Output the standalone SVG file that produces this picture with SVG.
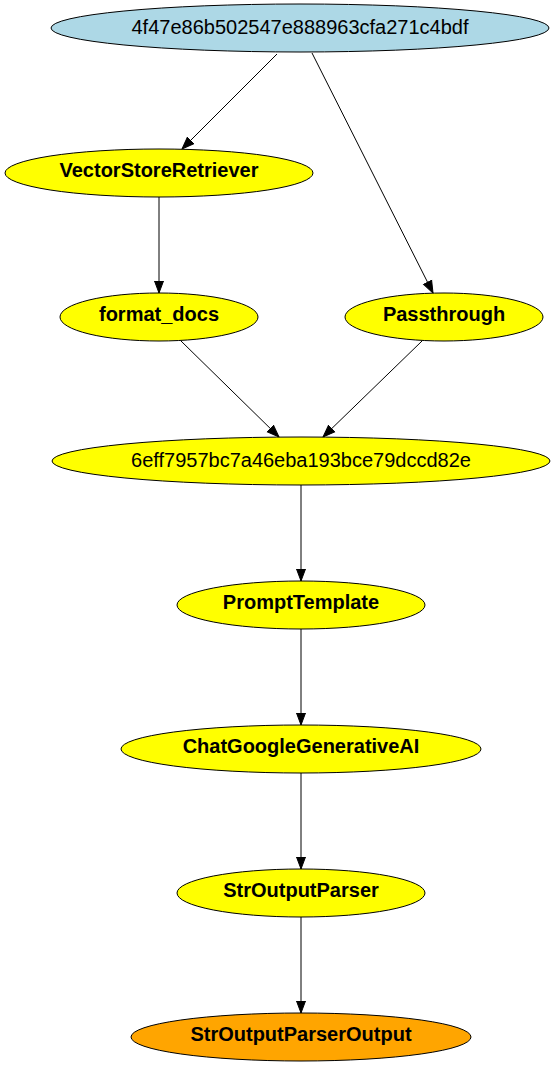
<svg xmlns="http://www.w3.org/2000/svg" width="556" height="1067" viewBox="0 0 556 1067">
<style>
.n ellipse{stroke:#000;stroke-width:1}
.n text{font-family:"Liberation Sans",Arial,sans-serif;font-size:20px;text-anchor:middle;fill:#000}
.b text{font-weight:bold}
.e line{stroke:#000;stroke-width:1}
</style>
<defs>
<marker id="ah" markerUnits="userSpaceOnUse" markerWidth="14" markerHeight="12" viewBox="0 -6 13 12" refX="12" refY="0" orient="auto">
<path d="M0,-4.5 L12,0 L0,4.5 z" fill="#000" stroke="#000" stroke-width="1"/>
</marker>
</defs>
<rect width="556" height="1067" fill="#fff"/>
<g id="edges" class="e">
<line x1="277" y1="54" x2="182" y2="149" marker-end="url(#ah)"/>
<line x1="312" y1="53" x2="433" y2="293" marker-end="url(#ah)"/>
<line x1="159" y1="197" x2="159" y2="293" marker-end="url(#ah)"/>
<line x1="181" y1="341" x2="279" y2="437" marker-end="url(#ah)"/>
<line x1="422" y1="341" x2="323" y2="437" marker-end="url(#ah)"/>
<line x1="301" y1="485" x2="301" y2="581" marker-end="url(#ah)"/>
<line x1="301" y1="629" x2="301" y2="725" marker-end="url(#ah)"/>
<line x1="301" y1="773" x2="301" y2="869" marker-end="url(#ah)"/>
<line x1="301" y1="917" x2="301" y2="1013" marker-end="url(#ah)"/>
</g>
<g id="n_root" class="n"><ellipse cx="300" cy="28" rx="249" ry="24" fill="#add8e6"/><text x="300" y="34">4f47e86b502547e888963cfa271c4bdf</text></g>
<g id="n_vsr" class="n b"><ellipse cx="159" cy="173" rx="154" ry="24" fill="#ffff00"/><text x="159" y="177">VectorStoreRetriever</text></g>
<g id="n_fd" class="n b"><ellipse cx="159" cy="317" rx="99" ry="24" fill="#ffff00"/><text x="159" y="321">format_docs</text></g>
<g id="n_pt" class="n b"><ellipse cx="444" cy="317" rx="99" ry="24" fill="#ffff00"/><text x="444" y="321">Passthrough</text></g>
<g id="n_mid" class="n"><ellipse cx="301" cy="461" rx="249" ry="24" fill="#ffff00"/><text x="301" y="467">6eff7957bc7a46eba193bce79dccd82e</text></g>
<g id="n_prompt" class="n b"><ellipse cx="301" cy="605" rx="124" ry="24" fill="#ffff00"/><text x="301" y="609">PromptTemplate</text></g>
<g id="n_chat" class="n b"><ellipse cx="301" cy="749" rx="180" ry="24" fill="#ffff00"/><text x="301" y="753">ChatGoogleGenerativeAI</text></g>
<g id="n_sop" class="n b"><ellipse cx="301" cy="893" rx="124" ry="24" fill="#ffff00"/><text x="301" y="897">StrOutputParser</text></g>
<g id="n_out" class="n b"><ellipse cx="301" cy="1037" rx="170" ry="24" fill="#ffa500"/><text x="301" y="1041">StrOutputParserOutput</text></g>
</svg>
